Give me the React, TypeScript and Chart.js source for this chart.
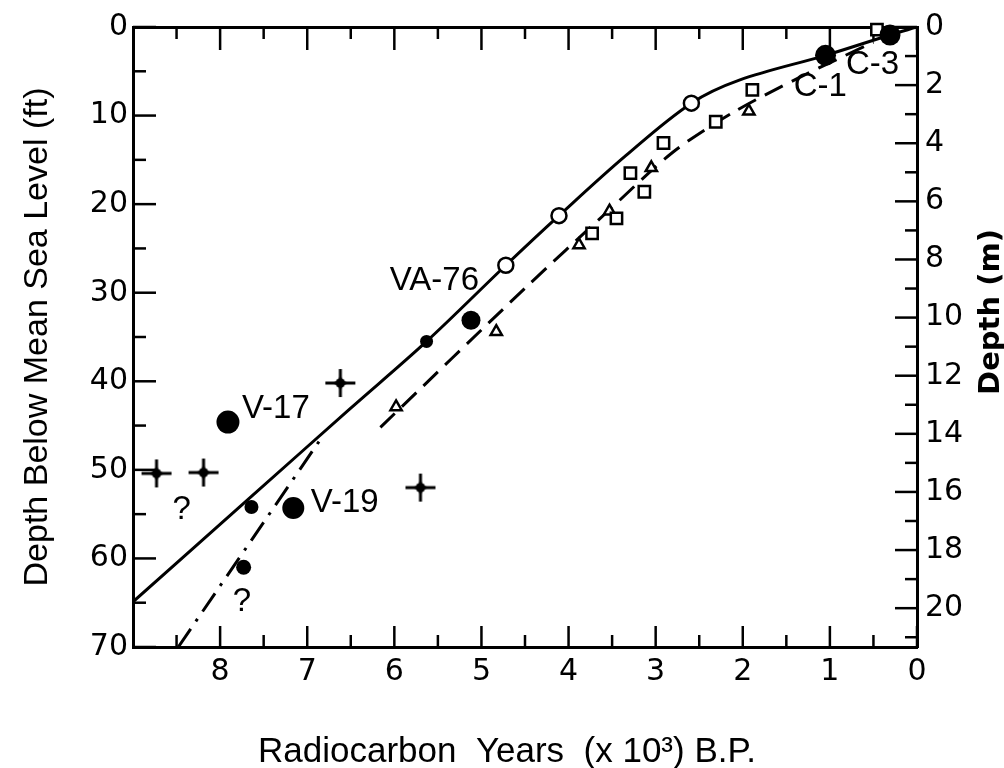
import React, { useEffect, useRef } from 'react';
import { Chart, registerables } from 'chart.js';

Chart.register(...registerables);

// ---------- data: x = radiocarbon years (x10^3) B.P., y = depth below MSL (ft) ----------
const solidCurveX = [9.0, 7.64, 6.52, 5.63, 4.72, 4.11, 3.34, 2.59, 2.04, 1.05, 0.31, 0.0];
const solidCurveY = [64.9, 53.0, 43.2, 35.5, 26.9, 21.3, 14.5, 8.6, 6.0, 3.2, 0.9, 0.0];

const dashedCurveX = [6.16, 4.49, 3.57, 2.81, 2.12, 1.37, 0.5];
const dashedCurveY = [45.2, 29.4, 21.0, 14.2, 9.7, 5.8, 1.7];

const dashDotX = [8.48, 6.83];
const dashDotY = [70, 46.3];

const openCircleX = [4.72, 4.11, 2.59];
const openCircleY = [26.9, 21.3, 8.6];

const largeDotX = [7.91, 7.16, 5.12, 1.05, 0.31];
const largeDotY = [44.6, 54.3, 33.1, 3.2, 0.9];

const smallDotX = [7.64, 7.73, 5.63];
const smallDotY = [54.2, 61.0, 35.5];

const squareX = [0.46, 1.89, 2.31, 2.91, 3.29, 3.13, 3.45, 3.73];
const squareY = [0.3, 7.1, 10.7, 13.1, 16.5, 18.6, 21.6, 23.3];

const triangleX = [1.93, 3.05, 3.53, 3.88, 4.83, 5.98];
const triangleY = [9.5, 15.9, 20.8, 24.6, 34.4, 42.9];

const starX = [8.73, 8.19, 6.62, 5.70];
const starY = [50.4, 50.3, 40.2, 52.0];

const annotationText = ['V-17', 'V-19', 'VA-76', 'C-1', 'C-3', '?', '?'];
const annotationX = [7.36, 6.57, 5.54, 1.11, 0.51, 8.44, 7.75];
const annotationY = [43.1, 53.7, 28.7, 6.8, 4.3, 54.5, 64.9];

// ---------- ticks ----------
const xTickLabels = [0, 1, 2, 3, 4, 5, 6, 7, 8];
const xMinorTicks = [0.5, 1.5, 2.5, 3.5, 4.5, 5.5, 6.5, 7.5, 8.5];
const ftTickLabels = [0, 10, 20, 30, 40, 50, 60, 70];
const ftMinorTicks = [5, 15, 25, 35, 45, 55, 65];
const mTickLabels = [0, 2, 4, 6, 8, 10, 12, 14, 16, 18, 20];
const mMinorTicks = [1, 3, 5, 7, 9, 11, 13, 15, 17, 19, 21];

const xTitle = 'Radiocarbon  Years  (x 10³) B.P.';
const yTitle = 'Depth Below Mean Sea Level (ft)';
const y2Title = 'Depth (m)';

const FT_TO_M = 0.3048;

const pts = (xs: number[], ys: number[]) => xs.map((x, i) => ({ x, y: ys[i] }));

function makeStar(): HTMLCanvasElement {
  const c = document.createElement('canvas');
  c.width = 34;
  c.height = 32;
  const g = c.getContext('2d')!;
  const cx = 17, cy = 16;
  g.strokeStyle = '#000';
  g.fillStyle = '#000';
  g.lineWidth = 3;
  g.beginPath();
  g.moveTo(2, cy); g.lineTo(32, cy);
  g.moveTo(cx, 2); g.lineTo(cx, 30);
  g.stroke();
  g.beginPath();
  const R = 10, r = 3.2;
  for (let k = 0; k < 8; k++) {
    const a = (k * Math.PI) / 4;
    const rr = k % 2 === 0 ? R : r;
    const px = cx + rr * Math.cos(a);
    const py = cy + rr * Math.sin(a);
    if (k === 0) g.moveTo(px, py); else g.lineTo(px, py);
  }
  g.closePath();
  g.fill();
  g.beginPath();
  g.arc(cx, cy, 4.8, 0, Math.PI * 2);
  g.fill();
  return c;
}

const inwardTicks = {
  id: 'inwardTicks',
  beforeDatasetsDraw(chart: any) {
    const { ctx, chartArea: a, scales } = chart;
    const xs = scales.x, ys = scales.y, ms = scales.y2;
    ctx.save();
    ctx.strokeStyle = '#000';
    ctx.lineWidth = 2.5;
    const seg = (x1: number, y1: number, x2: number, y2: number) => {
      ctx.beginPath(); ctx.moveTo(x1, y1); ctx.lineTo(x2, y2); ctx.stroke();
    };
    xTickLabels.forEach((v) => {
      const p = xs.getPixelForValue(v);
      seg(p, a.bottom, p, a.bottom - 21);
      seg(p, a.top, p, a.top + 23);
    });
    xMinorTicks.forEach((v) => {
      const p = xs.getPixelForValue(v);
      seg(p, a.bottom, p, a.bottom - 12);
      seg(p, a.top, p, a.top + 12);
    });
    ftTickLabels.forEach((v) => {
      const p = ys.getPixelForValue(v);
      seg(a.left, p, a.left + 23, p);
    });
    ftMinorTicks.forEach((v) => {
      const p = ys.getPixelForValue(v);
      seg(a.left, p, a.left + 13, p);
    });
    mTickLabels.forEach((v) => {
      const p = ms.getPixelForValue(v);
      seg(a.right, p, a.right - 22, p);
    });
    mMinorTicks.forEach((v) => {
      const p = ms.getPixelForValue(v);
      seg(a.right, p, a.right - 12, p);
    });
    ctx.restore();
  },
};

const textLayer = {
  id: 'textLayer',
  afterDatasetsDraw(chart: any) {
    const { ctx, scales, chartArea: a } = chart;
    const xs = scales.x, ys = scales.y;
    ctx.save();
    ctx.fillStyle = '#000';
    ctx.font = '33px "Liberation Sans", Arial, sans-serif';
    ctx.textAlign = 'center';
    ctx.textBaseline = 'middle';
    annotationText.forEach((t, i) => {
      ctx.fillText(t, xs.getPixelForValue(annotationX[i]), ys.getPixelForValue(annotationY[i]));
    });
    // axis titles
    ctx.textBaseline = 'alphabetic';
    ctx.font = '35px "Liberation Sans", Arial, sans-serif';
    ctx.fillText(xTitle, (a.left + a.right) / 2 - 18, 762);
    ctx.save();
    ctx.translate(47, (a.top + a.bottom) / 2);
    ctx.rotate(-Math.PI / 2);
    ctx.font = '34px "Liberation Sans", Arial, sans-serif';
    ctx.fillText(yTitle, 0, 0);
    ctx.restore();
    ctx.save();
    ctx.translate(999, 312);
    ctx.rotate(-Math.PI / 2);
    ctx.font = 'bold 29px "DejaVu Sans", sans-serif';
    ctx.fillText(y2Title, 0, 0);
    ctx.restore();
    ctx.restore();
  },
};

export default function App() {
  const ref = useRef<HTMLCanvasElement>(null);

  useEffect(() => {
    const star = makeStar();
    const tickFont = { family: '"DejaVu Sans", sans-serif', size: 30 };
    const border = { display: true, color: '#000', width: 3 };
    const chart = new Chart(ref.current!, {
      type: 'scatter',
      data: {
        datasets: [
          {
            data: pts(openCircleX, openCircleY),
            pointStyle: 'circle',
            pointRadius: 7.5,
            pointBorderWidth: 2.5,
            pointBackgroundColor: '#fff',
            pointBorderColor: '#000',
            order: 0,
            clip: false,
          },
          {
            data: pts(largeDotX, largeDotY),
            pointStyle: 'circle',
            pointRadius: [11.5, 11, 9.5, 10.5, 10.5],
            pointBorderWidth: 0,
            pointBackgroundColor: '#000',
            pointBorderColor: '#000',
            order: 0,
            clip: false,
          },
          {
            data: pts(smallDotX, smallDotY),
            pointStyle: 'circle',
            pointRadius: [7, 7.5, 6.5],
            pointBorderWidth: 0,
            pointBackgroundColor: '#000',
            pointBorderColor: '#000',
            order: 0,
            clip: false,
          },
          {
            data: pts(squareX, squareY),
            pointStyle: 'rect',
            pointRadius: 8,
            pointBorderWidth: 2.5,
            pointBackgroundColor: '#fff',
            pointBorderColor: '#000',
            order: 0,
            clip: false,
          },
          {
            data: pts(triangleX, triangleY),
            pointStyle: 'triangle',
            pointRadius: 6.5,
            pointBorderWidth: 2.5,
            pointBackgroundColor: '#fff',
            pointBorderColor: '#000',
            order: 0,
            clip: false,
          },
          {
            data: pts(starX, starY),
            pointStyle: star as any,
            pointRadius: 16,
            order: 0,
            clip: false,
          },
          {
            data: pts(solidCurveX, solidCurveY),
            showLine: true,
            borderColor: '#000',
            borderWidth: 3,
            tension: 0.35,
            pointRadius: 0,
            order: 1,
          },
          {
            data: pts(dashedCurveX, dashedCurveY),
            showLine: true,
            borderColor: '#000',
            borderWidth: 3,
            borderDash: [20, 10],
            tension: 0.3,
            pointRadius: 0,
            order: 1,
          },
          {
            data: pts(dashDotX, dashDotY),
            showLine: true,
            borderColor: '#000',
            borderWidth: 3,
            borderDash: [22, 9, 3, 9],
            pointRadius: 0,
            order: 1,
          },
        ],
      },
      options: {
        animation: false,
        responsive: false,
        devicePixelRatio: 1,
        events: [],
        layout: { padding: 0 },
        plugins: { legend: { display: false }, tooltip: { enabled: false } },
        scales: {
          x: {
            type: 'linear',
            position: 'bottom',
            min: 0,
            max: 9,
            reverse: true,
            afterBuildTicks: (s: any) => { s.ticks = xTickLabels.map((value) => ({ value })); },
            afterFit: (s: any) => { s.height = 121; },
            ticks: { font: tickFont, color: '#000', padding: 7, maxRotation: 0, autoSkip: false },
            grid: { display: false, drawTicks: false },
            border,
          },
          x2: {
            type: 'linear',
            position: 'top',
            min: 0,
            max: 9,
            reverse: true,
            afterFit: (s: any) => { s.height = 27; },
            ticks: { display: false },
            grid: { display: false, drawTicks: false },
            border,
          },
          y: {
            type: 'linear',
            position: 'left',
            min: 0,
            max: 70,
            reverse: true,
            afterBuildTicks: (s: any) => { s.ticks = ftTickLabels.map((value) => ({ value })); },
            afterFit: (s: any) => { s.width = 133; },
            ticks: { font: tickFont, color: '#000', padding: 5, autoSkip: false },
            grid: { display: false, drawTicks: false },
            border,
          },
          y2: {
            type: 'linear',
            position: 'right',
            min: 0,
            max: 70 * FT_TO_M,
            reverse: true,
            afterBuildTicks: (s: any) => { s.ticks = mTickLabels.map((value) => ({ value })); },
            afterFit: (s: any) => { s.width = 87; },
            ticks: { font: tickFont, color: '#000', padding: 8, autoSkip: false },
            grid: { display: false, drawTicks: false },
            border,
          },
        },
      } as any,
      plugins: [inwardTicks, textLayer],
    });
    return () => chart.destroy();
  }, []);

  return (
    <div style={{ position: 'fixed', left: 0, top: 0, width: 1004, height: 768, background: '#fff' }}>
      <canvas ref={ref} width={1004} height={768} style={{ display: 'block' }} />
    </div>
  );
}
